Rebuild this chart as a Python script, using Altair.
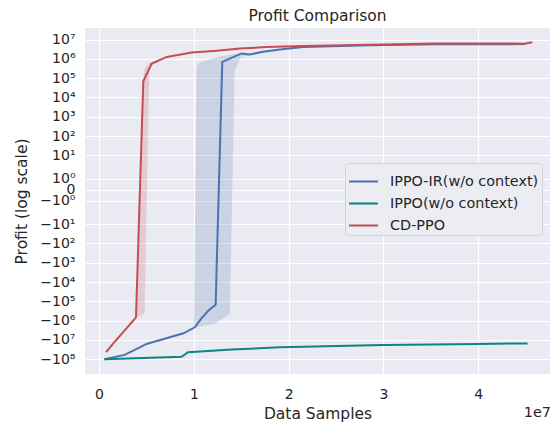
import altair as alt
import pandas as pd
import math

# ---- data (x in samples, y = profit) ----
series_names = ["IPPO-IR(w/o context)", "IPPO(w/o context)", "CD-PPO"]
series_colors = ["#4c72b0", "#0b8580", "#c44e52"]

ir_x = [0.056, 0.27, 0.43, 0.50, 0.71, 0.89, 1.01, 1.08, 1.16, 1.23, 1.30, 1.505, 1.59, 1.73, 1.91, 2.155, 2.86, 3.56, 4.26, 4.49]
ir_y = [-1.0e8, -5.9e7, -2.4e7, -1.6e7, -8.2e6, -4.5e6, -2.2e6, -7.6e5, -2.8e5, -1.5e5,
        6.9e5, 1.9e6, 1.7e6, 2.3e6, 3.0e6, 4.1e6, 5.1e6, 5.7e6, 5.7e6, 5.9e6]

ippo_x = [0.056, 0.87, 0.94, 1.40, 1.91, 3.0, 4.0, 4.52]
ippo_y = [-1.0e8, -7.4e7, -4.3e7, -3.1e7, -2.4e7, -1.8e7, -1.6e7, -1.5e7]

cd_x = [0.074, 0.151, 0.39, 0.467, 0.556, 0.714, 0.978, 1.24, 1.49, 1.77, 2.15, 3.0, 3.56, 4.26, 4.49, 4.57]
cd_y = [-4.3e7, -1.5e7, -6.7e5, 6.9e4, 5.7e5, 1.26e6, 2.1e6, 2.6e6, 3.4e6, 4.1e6, 4.6e6, 5.5e6,
        6.2e6, 6.2e6, 6.0e6, 7.2e6]

# shaded spread bands
ir_band_x = [1.00, 1.03, 1.06, 1.15, 1.23, 1.30, 1.38, 1.43, 1.50, 1.60, 1.75]
ir_band_lo = [-2.4e6, -2.2e6, -2.0e6, -1.7e6, -1.4e6, -8e5, -4.5e5, 2.5e5, 1.3e6, 1.5e6, 2.1e6]
ir_band_hi = [-2.4e6, 4e5, 6.5e5, 9e5, 1.1e6, 1.4e6, 1.6e6, 1.8e6, 2.0e6, 1.9e6, 2.5e6]

cd_band_x = [0.39, 0.40, 0.467, 0.48, 0.53, 0.556, 0.65, 0.714]
cd_band_lo = [-6.7e5, -6.5e5, -4.5e5, -4e5, 3e5, 4.5e5, 8e5, 1.2e6]
cd_band_hi = [-6.7e5, -2e5, 6.9e4, 3e5, 6e5, 6.5e5, 1.0e6, 1.3e6]

x_ticks = [0, 1, 2, 3, 4]
y_pos_exps = [0, 1, 2, 3, 4, 5, 6, 7]
y_neg_exps = [0, 1, 2, 3, 4, 5, 6, 7, 8]

SCALE = 1e7
LT = 1.76   # linear threshold of the symmetric log axis
ADJ = 1.02  # linear-region scale


def sym(v):
    a = abs(v)
    s = -1 if v < 0 else 1
    if a <= LT:
        return s * a * ADJ / LT
    return s * (ADJ + math.log10(a / LT))


def sym_expr(f):
    a = f"abs(datum.{f})"
    return (f"(datum.{f} < 0 ? -1 : 1) * ({a} <= {LT} ? {a} * {ADJ} / {LT} : "
            f"{ADJ} + log({a} / {LT}) / LN10)")


rows = []
for name, xs, ys in [(series_names[0], ir_x, ir_y), (series_names[1], ippo_x, ippo_y), (series_names[2], cd_x, cd_y)]:
    for x, y in zip(xs, ys):
        rows.append({"x": x * SCALE, "v": y, "series": name})
lines_df = pd.DataFrame(rows)

brows = []
for name, xs, lo, hi in [(series_names[0], ir_band_x, ir_band_lo, ir_band_hi),
                         (series_names[2], cd_band_x, cd_band_lo, cd_band_hi)]:
    for x, l, h in zip(xs, lo, hi):
        brows.append({"x": x * SCALE, "lo": l, "hi": h, "series": name})
band_df = pd.DataFrame(brows)

W, H = 465, 346
y_dom = [-9.535, 8.37]
x_dom = [-0.148 * SCALE, 4.757 * SCALE]

ytick_vals = [sym(10.0 ** k) for k in y_pos_exps] + [0.0] + [sym(-(10.0 ** k)) for k in y_neg_exps]

sup = "['⁰','¹','²','³','⁴','⁵','⁶','⁷','⁸','⁹']"
y_label_expr = (f"abs(datum.value) < 0.01 ? '0' : (datum.value < 0 ? '−' : '') + '10' + "
                f"{sup}[round(abs(datum.value) - {ADJ - math.log10(LT)})]")

color = alt.Color("series:N",
                  scale=alt.Scale(domain=series_names, range=series_colors),
                  legend=alt.Legend(title=None, orient="none", legendX=260, legendY=135,
                                    symbolType="stroke", symbolSize=841, symbolStrokeWidth=2,
                                    symbolOpacity=1,
                                    labelFontSize=14.4, labelFont="DejaVu Sans", labelColor="#262626",
                                    labelOffset=11, rowPadding=-3, padding=3,
                                    fillColor="#ececf3", strokeColor="#d2d2da", cornerRadius=4))

x_enc = alt.X("x:Q", scale=alt.Scale(domain=x_dom, nice=False, zero=False),
              axis=alt.Axis(values=[t * SCALE for t in x_ticks], labelExpr=f"datum.value / {SCALE}",
                            title="Data Samples", titlePadding=5, labelPadding=13))

y_axis = alt.Axis(values=ytick_vals, labelExpr=y_label_expr, title="Profit (log scale)",
                  titlePadding=10, labelOverlap=False, labelPadding=10)

bands = alt.Chart(band_df).transform_calculate(
    lo_t=sym_expr("lo"), hi_t=sym_expr("hi")
).mark_area(opacity=0.2, interpolate="linear").encode(
    x=x_enc,
    y=alt.Y("lo_t:Q", scale=alt.Scale(domain=y_dom, nice=False, zero=False), axis=y_axis),
    y2="hi_t:Q",
    color=color,
)

lines = alt.Chart(lines_df).transform_calculate(
    t=sym_expr("v")
).mark_line(strokeWidth=2).encode(
    x=x_enc,
    y=alt.Y("t:Q", scale=alt.Scale(domain=y_dom, nice=False, zero=False), axis=y_axis),
    color=color,
    order="x:Q",
)

offset_text = alt.Chart(pd.DataFrame({"label": ["1e7"]})).mark_text(
    align="right", baseline="middle", fontSize=14.4, font="DejaVu Sans", color="#262626"
).encode(x=alt.value(W + 1), y=alt.value(H + 39), text="label:N")

chart = alt.layer(bands, lines, offset_text).properties(
    width=W, height=H,
    background="white",
    title=alt.TitleParams("Profit Comparison", fontSize=15.5, fontWeight="normal",
                          font="DejaVu Sans", color="#262626", offset=4),
    autosize=alt.AutoSizeParams(type="none"),
    padding={"left": 77, "top": 20, "right": 0, "bottom": 48},
).configure_view(fill="#eaeaf2", stroke=None).configure_axis(
    grid=True, gridColor="white", gridWidth=1.2, domain=False, ticks=False,
    labelFont="DejaVu Sans", labelFontSize=14, labelColor="#262626",
    titleFont="DejaVu Sans", titleFontSize=15.5, titleFontWeight="normal", titleColor="#262626",
)

chart.save("out.html", embed_options={"renderer": "svg", "actions": False})
